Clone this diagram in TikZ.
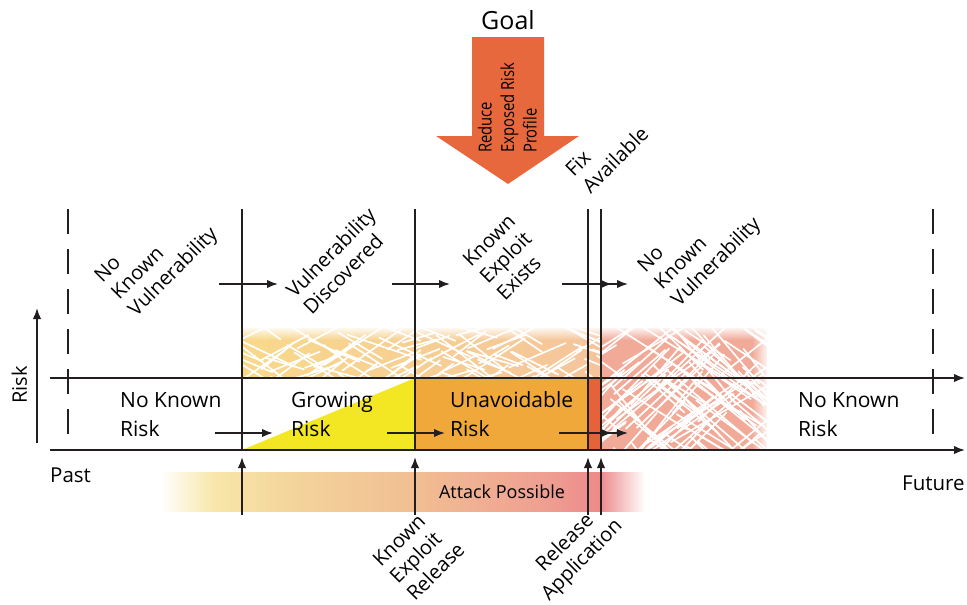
\documentclass[tikz,border=0pt]{standalone}
\usepackage{fontspec}
\setmainfont{Open Sans}
\newfontfamily\condfont[FakeStretch=0.82]{Open Sans}
\usetikzlibrary{arrows.meta,fadings}

\definecolor{ink}{HTML}{231F20}
\definecolor{growyellow}{HTML}{F3E622}
\definecolor{riskorange}{HTML}{F0A83A}
\definecolor{fixred}{HTML}{E5623A}
\definecolor{goalred}{HTML}{E8683E}
\definecolor{bandleft}{HTML}{F8D98A}
\definecolor{bandright}{HTML}{F5C49C}
\definecolor{salmon}{HTML}{F2AA98}
\definecolor{atkA}{HTML}{F8E6A8}
\definecolor{atkB}{HTML}{F3D39A}
\definecolor{atkC}{HTML}{F1BD92}
\definecolor{atkD}{HTML}{EFA092}
\definecolor{atkE}{HTML}{EE8A8B}

\tikzfading[name=fadedown, top color=transparent!0, bottom color=transparent!100]
\tikzfading[name=fadeleftward, left color=transparent!100, right color=transparent!0]

\pgfdeclarehorizontalshading{attackshade}{100bp}{%
  color(0bp)=(white); color(25bp)=(white); color(30.7bp)=(atkA);
  color(39.4bp)=(atkB); color(51.8bp)=(atkC); color(64.2bp)=(atkD);
  color(70.4bp)=(atkE); color(75bp)=(white); color(100bp)=(white)}

\begin{document}
\begin{tikzpicture}[x=1pt,y=-1pt,
  line/.style={draw=ink, line width=1.8pt},
  arr/.style={line, -{Latex[length=11pt,width=8.5pt]}},
  darr/.style={line, -{Latex[length=11pt,width=8.5pt,sep=5pt]Latex[length=11pt,width=8.5pt]}},
  dashline/.style={line, dash pattern=on 25pt off 15pt},
  hatch/.style={draw=white, line width=1.7pt, line cap=round},
  slant/.style={rotate=45, align=left, anchor=west, inner sep=0pt,
    font=\fontsize{20}{24}\selectfont},
  zone/.style={align=left, anchor=north west, inner sep=0pt,
    font=\fontsize{21}{29}\selectfont},
  plain/.style={inner sep=0pt, font=\fontsize{20.5}{24}\selectfont}]
\useasboundingbox (0,0) rectangle (967,605);

% ---- exposure bands above the risk strip
\fill[left color=bandleft, right color=bandright] (242,328) rectangle (601,378);
\fill[salmon] (601,328) rectangle (767,450);

% scribbled white hatching over the bands
\pgfmathsetseed{11}
\begin{scope}
  \clip (242,328) rectangle (601,378);
  \foreach \k in {1,...,120}{
    \pgfmathsetmacro{\hx}{215+rnd*400}
    \pgfmathsetmacro{\hy}{320+rnd*65}
    \pgfmathsetmacro{\ha}{(rnd<0.5) ? (15+rnd*25) : (165-rnd*25)}
    \pgfmathsetmacro{\hl}{30+rnd*50}
    \draw[hatch] (\hx,\hy) -- ++(\ha:\hl);
  }
\end{scope}
\begin{scope}
  \clip (601,328) rectangle (767,450);
  \foreach \k in {1,...,150}{
    \pgfmathsetmacro{\hx}{570+rnd*210}
    \pgfmathsetmacro{\hy}{315+rnd*145}
    \pgfmathsetmacro{\ha}{(rnd<0.5) ? (30+rnd*22) : (150-rnd*22)}
    \pgfmathsetmacro{\hl}{50+rnd*80}
    \draw[hatch] (\hx,\hy) -- ++(\ha:\hl);
  }
\end{scope}
% soft top and right edges
\fill[white, path fading=fadedown] (240,326) rectangle (769,340);
\fill[white, path fading=fadeleftward] (752,326) rectangle (769,452);

% ---- risk strip fills
\fill[growyellow] (242,450) -- (415,378) -- (415,450) -- cycle;
\fill[riskorange] (415,378) rectangle (588,450);
\fill[fixred] (588,378) rectangle (601,450);

% ---- attack window
\shade[shading=attackshade] (160,472) rectangle (645,511);

% ---- named points
\coordinate (ua0) at (50,378);  \coordinate (ua1) at (965,378);
\coordinate (la0) at (50,450);  \coordinate (la1) at (965,450);
\coordinate (r0) at (37,443);   \coordinate (r1) at (37,308);
\coordinate (dl0) at (68,209);  \coordinate (dl1) at (68,436);
\coordinate (dr0) at (933,209); \coordinate (dr1) at (933,436);
\foreach \n/\x in {a/242,b/415,c/588,d/601}{
  \coordinate (\n top) at (\x,209);
  \coordinate (\n bot) at (\x,450);
  \coordinate (\n src) at (\x,515);
  \coordinate (\n tip) at (\x,457);
}
\coordinate (s1a) at (219,284); \coordinate (s1b) at (278,284);
\coordinate (s2a) at (392,284); \coordinate (s2b) at (450,284);
\coordinate (s3a) at (562,284); \coordinate (s3b) at (628,284);
\coordinate (t1a) at (215,433); \coordinate (t1b) at (273,433);
\coordinate (t2a) at (387,433); \coordinate (t2b) at (445,433);
\coordinate (t3a) at (559,433); \coordinate (t3b) at (628,433);

% ---- axes and phase boundaries
\draw[arr] (ua0) -- (ua1);
\draw[arr] (la0) -- (la1);
\draw[arr] (r0) -- (r1);
\draw[dashline] (dl0) -- (dl1);
\draw[dashline] (dr0) -- (dr1);
\foreach \n in {a,b,c,d}{
  \draw[line] (\n top) -- (\n bot);
  \draw[arr] (\n src) -- (\n tip);
}
\draw[arr] (s1a) -- (s1b);
\draw[arr] (s2a) -- (s2b);
\draw[darr] (s3a) -- (s3b);
\draw[arr] (t1a) -- (t1b);
\draw[arr] (t2a) -- (t2b);
\draw[darr] (t3a) -- (t3b);

% ---- goal arrow
\fill[goalred] (472,37) -- (544,37) -- (544,136) -- (579,136) -- (508,184)
  -- (436,136) -- (472,136) -- cycle;
\node[inner sep=0pt, anchor=base, font=\fontsize{25}{30}\selectfont] (goal) at (508,29) {Goal};
\node[rotate=90, anchor=south west, inner sep=0pt, align=left,
  font=\condfont\fontsize{18}{22.5}\selectfont] (goaltext) at (537,153)
  {Reduce\\Exposed Risk\\Profile};

% ---- state labels
\node[slant] (st1) at (116,297) {No\\Known\\Vulnerability};
\node[slant] (st2) at (298,302) {Vulnerability\\Discovered};
\node[slant] (st3) at (483,280) {Known\\Exploit\\Exists};
\node[slant] (st4) at (659,287) {No\\Known\\Vulnerability};
\node[slant] (fix) at (577,181) {Fix\\Available};

% ---- event labels
\node[slant] (ev1) at (393,580) {Known\\Exploit\\Release};
\node[slant, align=center, anchor=center] (ev2) at (574,552) {Release\\Application};

% ---- risk zone labels
\node[zone] (z1) at (120,392) {No Known\\Risk};
\node[zone] (z2) at (291,392) {Growing\\Risk};
\node[zone] (z3) at (450,391) {Unavoidable\\Risk};
\node[zone] (z4) at (798,392) {No Known\\Risk};

\node[plain, anchor=base west] (past) at (50,482) {Past};
\node[plain, anchor=base west] (future) at (902,490) {Future};
\node[plain, rotate=90, anchor=base, font=\fontsize{20}{24}\selectfont] (risk) at (27,385) {Risk};
\node[inner sep=0pt, anchor=base, font=\fontsize{18}{22}\selectfont] (attack) at (502,498) {Attack Possible};
\end{tikzpicture}
\end{document}
